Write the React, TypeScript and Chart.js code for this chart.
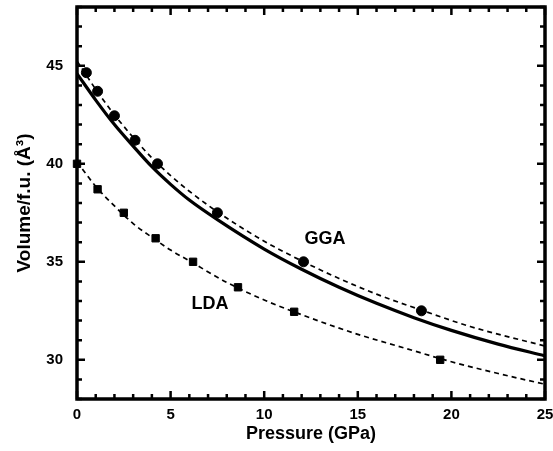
import React, { useEffect, useRef } from 'react';
import { Chart, registerables } from 'chart.js';

Chart.register(...registerables);

// Calculated points (GGA: circles, LDA: squares)
const ggaPressure = [0.5, 1.1, 2.0, 3.1, 4.3, 7.5, 12.1, 18.4];
const ggaVolume = [44.65, 43.7, 42.45, 41.2, 40.0, 37.5, 35.0, 32.5];
const ldaPressure = [0, 1.1, 2.5, 4.2, 6.2, 8.6, 11.6, 19.4];
const ldaVolume = [40.0, 38.7, 37.5, 36.2, 35.0, 33.7, 32.45, 30.0];

// Solid curve
const solidPressure = [0, 1, 2, 3, 4, 5, 6, 7.5, 10, 12, 14, 16, 18, 20, 22.5, 25];
const solidVolume = [44.6, 43.25, 42.0, 40.9, 39.85, 38.95, 38.15, 37.15, 35.65, 34.62, 33.7, 32.88, 32.15, 31.5, 30.8, 30.2];

// GGA fit (dashed)
const ggaFitPressure = [0, 1, 2, 3, 4, 5, 6, 7.5, 10, 12, 14, 16, 18.5, 21, 25];
const ggaFitVolume = [45.25, 43.8, 42.5, 41.35, 40.3, 39.4, 38.6, 37.55, 36.05, 35.05, 34.15, 33.35, 32.5, 31.7, 30.7];

// LDA fit (dashed)
const ldaFitPressure = [0, 1, 2, 3, 4, 5, 6, 8, 10, 12, 15, 17.5, 20, 22.5, 25];
const ldaFitVolume = [40.1, 38.85, 37.85, 36.95, 36.25, 35.6, 35.05, 33.95, 33.05, 32.3, 31.3, 30.6, 29.9, 29.3, 28.75];

const xTicks = [0, 5, 10, 15, 20, 25];
const yTicks = [30, 35, 40, 45];
const xRange = [0, 25];
const yRange = [28, 48];

const curveLabels = [
  { text: 'GGA', x: 13.25, y: 36.15 },
  { text: 'LDA', x: 7.1, y: 32.85 },
];

const FONT = '"Liberation Sans", Arial, sans-serif';

const zip = (xs: number[], ys: number[]) => xs.map((x, i) => ({ x, y: ys[i] }));

const framePlugin = {
  id: 'frameTicks',
  beforeDatasetsDraw(chart: any) {
    const { ctx, chartArea, scales } = chart;
    const { left, right, top, bottom } = chartArea;
    const xs = scales.x;
    const ys = scales.y;
    ctx.save();
    ctx.strokeStyle = '#000';
    ctx.lineCap = 'butt';
    for (let v = xs.min; v <= xs.max + 1e-9; v += 1) {
      const px = xs.getPixelForValue(v);
      const len = v % 5 === 0 ? 8 : 5;
      ctx.lineWidth = 2.5;
      ctx.beginPath();
      ctx.moveTo(px, bottom);
      ctx.lineTo(px, bottom - len);
      ctx.moveTo(px, top);
      ctx.lineTo(px, top + len);
      ctx.stroke();
    }
    for (let v = ys.min; v <= ys.max + 1e-9; v += 1) {
      const py = ys.getPixelForValue(v);
      const len = v % 5 === 0 ? 8 : 5;
      ctx.lineWidth = 2.5;
      ctx.beginPath();
      ctx.moveTo(left, py);
      ctx.lineTo(left + len, py);
      ctx.moveTo(right, py);
      ctx.lineTo(right - len, py);
      ctx.stroke();
    }
    ctx.lineWidth = 3.5;
    ctx.strokeRect(left, top, right - left, bottom - top);
    ctx.restore();
  },
  afterDatasetsDraw(chart: any) {
    const { ctx, scales } = chart;
    ctx.save();
    ctx.fillStyle = '#000';
    ctx.font = `bold 18px ${FONT}`;
    ctx.textAlign = 'center';
    ctx.textBaseline = 'middle';
    curveLabels.forEach((l) => {
      ctx.fillText(l.text, scales.x.getPixelForValue(l.x), scales.y.getPixelForValue(l.y));
    });
    ctx.restore();
  },
};

const zeroPad = (s: any) => {
  s.paddingTop = 0;
  s.paddingBottom = 0;
  s.paddingLeft = 0;
  s.paddingRight = 0;
};

export default function App() {
  const ref = useRef<HTMLCanvasElement | null>(null);

  useEffect(() => {
    if (!ref.current) return;
    const chart = new Chart(ref.current, {
      type: 'scatter',
      data: {
        datasets: [
          {
            label: 'fit',
            data: zip(solidPressure, solidVolume),
            showLine: true,
            borderColor: '#000',
            borderWidth: 3.2,
            pointRadius: 0,
            cubicInterpolationMode: 'monotone',
          },
          {
            label: 'GGA fit',
            data: zip(ggaFitPressure, ggaFitVolume),
            showLine: true,
            borderColor: '#000',
            borderWidth: 1.7,
            borderDash: [5, 4],
            pointRadius: 0,
            cubicInterpolationMode: 'monotone',
          },
          {
            label: 'LDA fit',
            data: zip(ldaFitPressure, ldaFitVolume),
            showLine: true,
            borderColor: '#000',
            borderWidth: 1.7,
            borderDash: [5, 4],
            pointRadius: 0,
            cubicInterpolationMode: 'monotone',
          },
          {
            label: 'GGA',
            data: zip(ggaPressure, ggaVolume),
            showLine: false,
            pointStyle: 'circle',
            pointRadius: 5,
            borderWidth: 1,
            borderColor: '#000',
            backgroundColor: '#000',
            clip: false,
          } as any,
          {
            label: 'LDA',
            data: zip(ldaPressure, ldaVolume),
            showLine: false,
            pointStyle: 'rect',
            pointRadius: 5.2,
            borderWidth: 1,
            borderColor: '#000',
            backgroundColor: '#000',
            clip: false,
          } as any,
        ],
      },
      options: {
        responsive: false,
        animation: false,
        devicePixelRatio: 1,
        layout: { padding: { top: 7, right: 8, left: 0, bottom: 0 } },
        plugins: {
          legend: { display: false },
          tooltip: { enabled: false },
        },
        scales: {
          x: {
            type: 'linear',
            min: xRange[0],
            max: xRange[1],
            grid: { display: false, drawTicks: false },
            border: { display: false },
            afterBuildTicks: (s: any) => {
              s.ticks = xTicks.map((v) => ({ value: v }));
            },
            afterFit: (s: any) => {
              s.height = 52;
              zeroPad(s);
            },
            ticks: {
              padding: 7,
              color: '#000',
              font: { family: FONT, size: 15, weight: 'bold' },
              maxRotation: 0,
            },
            title: {
              display: true,
              text: 'Pressure (GPa)',
              color: '#000',
              font: { family: FONT, size: 18, weight: 'bold' },
              padding: { top: 0, bottom: 6 },
            },
          },
          y: {
            type: 'linear',
            min: yRange[0],
            max: yRange[1],
            grid: { display: false, drawTicks: false },
            border: { display: false },
            afterBuildTicks: (s: any) => {
              s.ticks = yTicks.map((v) => ({ value: v }));
            },
            afterFit: (s: any) => {
              s.width = 77;
              zeroPad(s);
            },
            ticks: {
              padding: 14,
              color: '#000',
              font: { family: FONT, size: 15, weight: 'bold' },
            },
            title: {
              display: true,
              text: 'Volume/f.u. (Å³)',
              color: '#000',
              font: { family: FONT, size: 19, weight: 'bold' },
              padding: { top: 13, bottom: 0 },
            },
          },
        },
      },
      plugins: [framePlugin],
    });
    return () => chart.destroy();
  }, []);

  return (
    <div style={{ position: 'absolute', left: 0, top: 0, width: 553, height: 451, background: '#fff' }}>
      <canvas ref={ref} width={553} height={451} style={{ display: 'block' }} />
    </div>
  );
}
